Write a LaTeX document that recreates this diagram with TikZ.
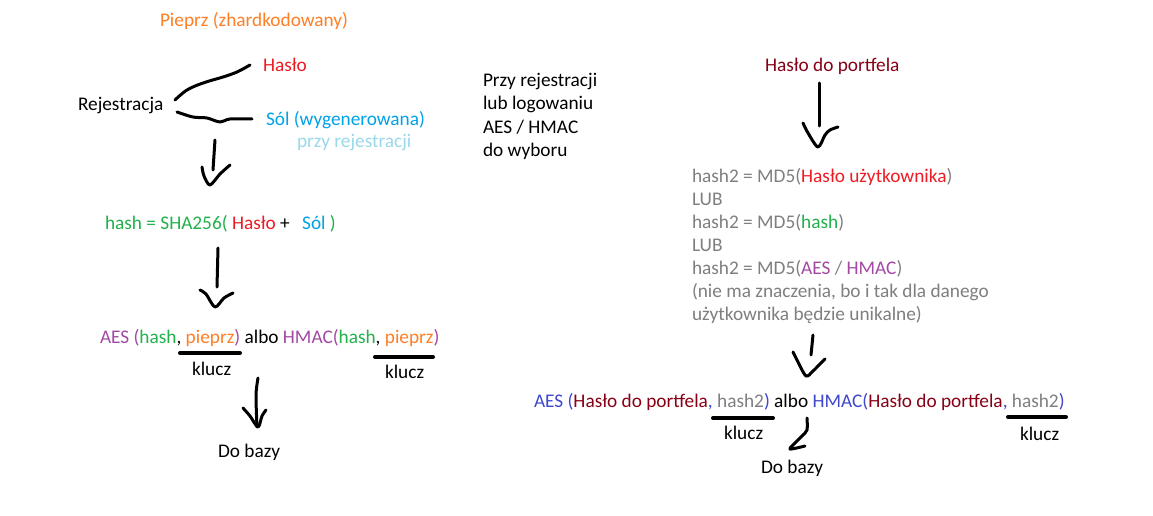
\documentclass[tikz,border=0pt]{standalone}
\usepackage{fontspec}
\setmainfont{Carlito}
\definecolor{cOrange}{RGB}{255,127,39}
\definecolor{cRed}{RGB}{237,28,36}
\definecolor{cBlue}{RGB}{0,162,232}
\definecolor{cLightBlue}{RGB}{153,217,234}
\definecolor{cGreen}{RGB}{34,177,76}
\definecolor{cPurple}{RGB}{163,73,164}
\definecolor{cDarkRed}{RGB}{136,0,21}
\definecolor{cIndigo}{RGB}{63,72,204}
\definecolor{cGray}{RGB}{127,127,127}
\begin{document}
\begin{tikzpicture}[x=1pt,y=-1pt,
  txt/.style={anchor=base west, inner sep=0pt, outer sep=0pt, font=\fontsize{19.3}{23}\selectfont},
  stroke/.style={line width=3pt, line cap=round, line join=round, black}]
\useasboundingbox[fill=white] (0,0) rectangle (1153,516);

% ---------- left part ----------
\node[txt, text=cOrange] (pieprz) at (160,27) {Pieprz (zhardkodowany)};
\node[txt, text=cRed] (haslo) at (263,72) {Hasło};
\node[txt] (rej) at (78,111) {Rejestracja};
\node[txt, text=cBlue] (sol) at (266,126) {Sól (wygenerowana)};
\node[txt, text=cLightBlue] (przy) at (297,147) {przy rejestracji};

\draw[stroke] plot[smooth, tension=0.6] coordinates {(175,100) (187,90) (203,83) (223,77) (237,72) (250,65)};
\draw[stroke] plot[smooth, tension=0.6] coordinates {(177,112) (193,117) (207,118) (220,122) (230,119) (252,119)};

\draw[stroke] (215,140) -- (213,170);
\draw[stroke] plot[smooth, tension=0.5] coordinates {(202,167) (204,176) (210,185) (220,174) (230,165)};

\node[txt, text=cGreen] (hash) at (105,229) {hash = SHA256( \textcolor{cRed}{Hasło} \textcolor{black}{+}\hspace{8pt} \textcolor{cBlue}{Sól} )};

\draw[stroke] (218,248) -- (217,287);
\draw[stroke] plot[smooth, tension=0.5] coordinates {(200,290) (206,294) (215,307) (224,298) (233,293)};

\node[txt, text=cPurple] (aes) at (100,343) {AES (\textcolor{cGreen}{hash}\textcolor{black}{,} \textcolor{cOrange}{pieprz}) \textcolor{black}{albo} HMAC(\textcolor{cGreen}{hash}\textcolor{black}{,} \textcolor{cOrange}{pieprz})};

\draw[stroke, line width=4pt] (180,353) -- (240,353);
\draw[stroke, line width=4pt] (375,357) -- (433,357);
\node[txt] (klucz1) at (192,375) {klucz};
\node[txt] (klucz2) at (385,378) {klucz};

\draw[stroke] plot[smooth, tension=0.5] coordinates {(258,378) (256,395) (257,427)};
\draw[stroke] plot[smooth, tension=0.5] coordinates {(243,408) (250,416) (258,427) (262,416) (266,410)};
\node[txt] (baza1) at (218,457) {Do bazy};

% ---------- middle note ----------
\node[txt] (n1) at (483,87) {Przy rejestracji};
\node[txt] (n2) at (483,110) {lub logowaniu};
\node[txt] (n3) at (483,133) {AES / HMAC};
\node[txt] (n4) at (483,156) {do wyboru};

% ---------- right part ----------
\node[txt, text=cDarkRed] (portfel) at (765,72) {Hasło do portfela};
\draw[stroke] (819,83) -- (819,126);
\draw[stroke] plot[smooth, tension=0.5] coordinates {(803,123) (808,133) (818,147) (825,135) (830,130) (838,127)};

\node[txt, text=cGray] (h1) at (692,182) {hash2 = MD5(\textcolor{cRed}{Hasło użytkownika})};
\node[txt, text=cGray] (h2) at (692,205) {LUB};
\node[txt, text=cGray] (h3) at (692,228) {hash2 = MD5(\textcolor{cGreen}{hash})};
\node[txt, text=cGray] (h4) at (692,251) {LUB};
\node[txt, text=cGray] (h5) at (692,274) {hash2 = MD5(\textcolor{cPurple}{AES} / \textcolor{cPurple}{HMAC})};
\node[txt, text=cGray] (h6) at (692,297) {(nie ma znaczenia, bo i tak dla danego};
\node[txt, text=cGray] (h7) at (692,320) {użytkownika będzie unikalne)};

\draw[stroke] (813,335) -- (811,355);
\draw[stroke] plot[smooth, tension=0.5] coordinates {(793,352) (798,362) (806,376) (813,371) (820,364) (825,359)};

\node[txt, text=cIndigo] (aes2) at (534,407) {AES (\textcolor{cDarkRed}{Hasło do portfela}, \textcolor{cGray}{hash2}) \textcolor{black}{albo} HMAC(\textcolor{cDarkRed}{Hasło do portfela}, \textcolor{cGray}{hash2})};

\draw[stroke, line width=4pt] (713,418) -- (773,418);
\draw[stroke, line width=4pt] (1008,417) -- (1066,417);
\node[txt] (klucz3) at (724,439) {klucz};
\node[txt] (klucz4) at (1020,440) {klucz};

\draw[stroke] plot[smooth, tension=0.5] coordinates {(807,418) (807,430) (802,436) (796,442) (790,449) (805,446)};
\node[txt] (baza2) at (761,473) {Do bazy};
\end{tikzpicture}
\end{document}
